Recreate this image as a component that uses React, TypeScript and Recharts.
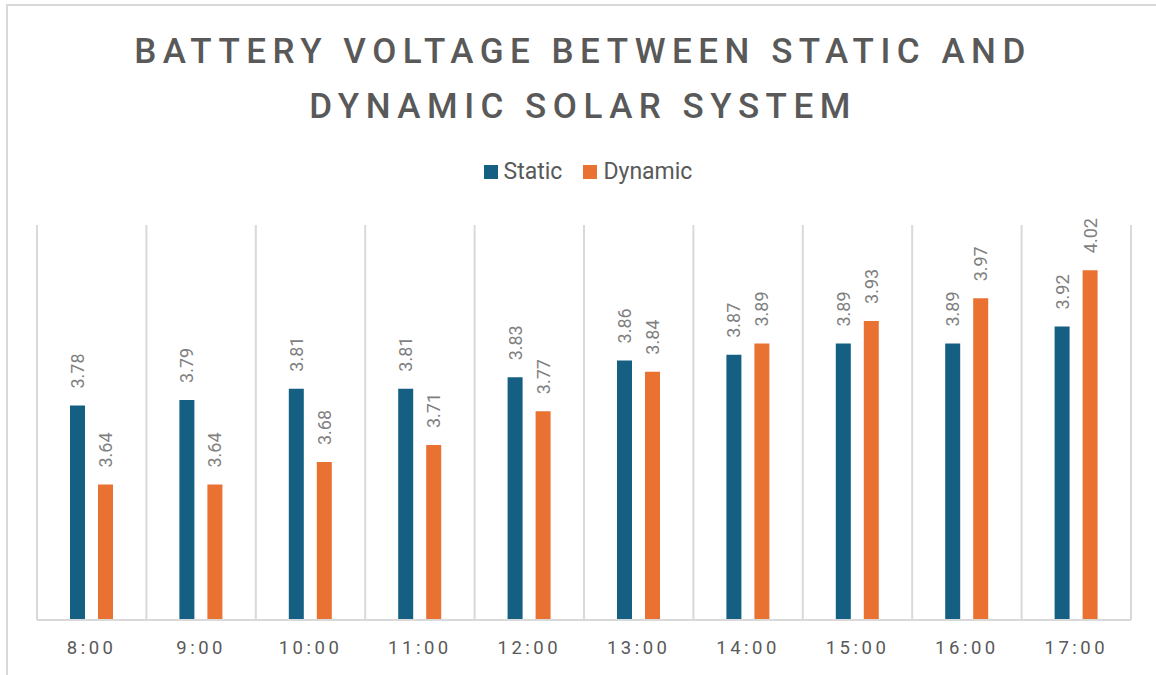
import { BarChart, Bar, XAxis, YAxis, CartesianGrid, LabelList } from 'recharts'

const CATEGORIES = ['8:00', '9:00', '10:00', '11:00', '12:00', '13:00', '14:00', '15:00', '16:00', '17:00']
const STATIC_V = [3.78, 3.79, 3.81, 3.81, 3.83, 3.86, 3.87, 3.89, 3.89, 3.92]
const DYNAMIC_V = [3.64, 3.64, 3.68, 3.71, 3.77, 3.84, 3.89, 3.93, 3.97, 4.02]
const Y_DOMAIN: [number, number] = [3.4, 4.1]

const STATIC_COLOR = '#156082'
const DYNAMIC_COLOR = '#E97132'
const FONT = 'Roboto, "Open Sans", sans-serif'

const data = CATEGORIES.map((c, i) => ({ name: c, Static: STATIC_V[i], Dynamic: DYNAMIC_V[i] }))

function RotLabel(props: any) {
  const { x, y, width, value } = props
  const cx = x + width / 2
  const ty = y - 17
  return (
    <text
      x={cx}
      y={ty}
      transform={`rotate(-90, ${cx}, ${ty})`}
      textAnchor="start"
      dominantBaseline="central"
      fontSize={18}
      fill="#7f7f7f"
      fontFamily={FONT}
    >
      {Number(value).toFixed(2)}
    </text>
  )
}

function Tick(props: any) {
  const { x, y, payload } = props
  return (
    <text x={x} y={y + 20} textAnchor="middle" dominantBaseline="central" fontSize={18.5}
      fill="#595959" fontFamily={FONT} letterSpacing={3.5}>
      {payload.value}
    </text>
  )
}

export default function App() {
  return (
    <div style={{ position: 'absolute', left: 0, top: 0, width: 1156, height: 675, background: '#fff', overflow: 'hidden', fontFamily: FONT }}>
      <div style={{ position: 'absolute', left: 6, top: 4, width: 1200, height: 700, borderTop: '2px solid #d9d9d9', borderLeft: '2px solid #d9d9d9' }} />
      <div style={{ position: 'absolute', left: 0, top: 24, width: 1166, textAlign: 'center', fontSize: 35, fontWeight: 500, lineHeight: '55px', color: '#595959', letterSpacing: 6.5 }}>
        BATTERY VOLTAGE BETWEEN STATIC AND<br />DYNAMIC SOLAR SYSTEM
      </div>
      <div style={{ position: 'absolute', top: 157, left: 10, width: 1156, display: 'flex', justifyContent: 'center', fontSize: 23, color: '#595959', lineHeight: '30px' }}>
        <span style={{ display: 'flex', alignItems: 'center', marginRight: 21 }}>
          <span style={{ width: 14, height: 14, background: STATIC_COLOR, marginRight: 6 }} />Static
        </span>
        <span style={{ display: 'flex', alignItems: 'center' }}>
          <span style={{ width: 14, height: 14, background: DYNAMIC_COLOR, marginRight: 6 }} />Dynamic
        </span>
      </div>
      <div style={{ position: 'absolute', left: 0, top: 0 }}>
        <BarChart width={1156} height={675} data={data}
          margin={{ top: 225, left: 37, right: 25, bottom: 25 }}
          barGap={13} barSize={15}>
          <CartesianGrid horizontal={false} stroke="#d9d9d9" strokeWidth={2}
            verticalCoordinatesGenerator={({ offset }: any) =>
              CATEGORIES.map((_, i) => offset.left + (i * offset.width) / CATEGORIES.length).concat(offset.left + offset.width)} />
          <XAxis dataKey="name" height={30} tickLine={false} axisLine={{ stroke: '#d9d9d9', strokeWidth: 2 }} tick={<Tick />} interval={0} />
          <YAxis hide domain={Y_DOMAIN} />
          <Bar dataKey="Static" fill={STATIC_COLOR} isAnimationActive={false}>
            <LabelList dataKey="Static" content={<RotLabel />} />
          </Bar>
          <Bar dataKey="Dynamic" fill={DYNAMIC_COLOR} isAnimationActive={false}>
            <LabelList dataKey="Dynamic" content={<RotLabel />} />
          </Bar>
        </BarChart>
      </div>
    </div>
  )
}
